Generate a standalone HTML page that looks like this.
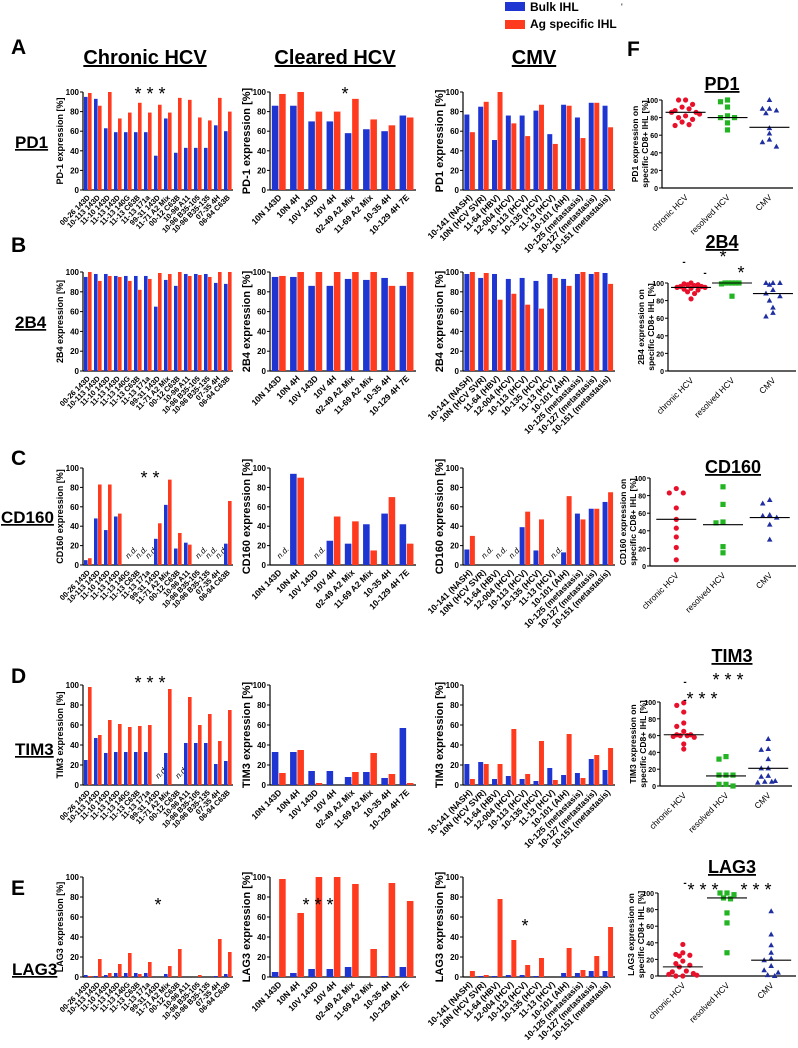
<!DOCTYPE html>
<html><head><meta charset="utf-8">
<style>
html,body{margin:0;padding:0;background:#fff;}
svg{display:block;font-family:"Liberation Sans",Arial,sans-serif;}
</style></head>
<body>
<svg id="fig" width="798" height="1048" viewBox="0 0 798 1048" xmlns="http://www.w3.org/2000/svg">
<g>
<rect x="505" y="2" width="20" height="9" fill="#1f35d1"/>
<text x="530" y="11" font-size="12" font-weight="bold">Bulk IHL</text>
<rect x="505" y="20" width="20" height="9" fill="#ff3b1f"/>
<text x="530" y="28" font-size="12" font-weight="bold">Ag specific IHL</text>
<text x="621" y="10" font-size="9">'</text>
</g>
<g font-weight="bold">
<text x="11" y="54" font-size="21">A</text>
<text x="11" y="252" font-size="21">B</text>
<text x="11" y="465" font-size="21">C</text>
<text x="11" y="683" font-size="21">D</text>
<text x="11" y="895" font-size="21">E</text>
<text x="627" y="56" font-size="21">F</text>
</g>
<g font-weight="bold" font-size="20" text-anchor="middle" text-decoration="underline">
<text x="145" y="64">Chronic HCV</text>
<text x="335" y="64">Cleared HCV</text>
<text x="534" y="64">CMV</text>
</g>
<g font-weight="bold" font-size="17" text-decoration="underline">
<text x="15" y="148">PD1</text>
<text x="15" y="328">2B4</text>
<text x="1" y="523" font-size="17">CD160</text>
<text x="15" y="755">TIM3</text>
<text x="12" y="975">LAG3</text>
</g>
<g id="plots"></g>
<g font-size="18" text-anchor="middle">
<text x="150" y="100">* * *</text>
<text x="345" y="100">*</text>
<text x="150" y="484">* *</text>
<text x="150" y="689">* * *</text>
<text x="158" y="911">*</text>
<text x="318" y="911">* * *</text>
<text x="525" y="932">*</text>
<text x="723" y="263">*</text>
<text x="741" y="279">*</text>
<text x="702" y="705">* * *</text>
<text x="728" y="686">* * *</text>
<text x="703" y="896">* * *</text>
<text x="756" y="896">* * *</text>
</g>
<g font-size="10" text-anchor="middle" font-weight="bold">
<text x="684" y="265">-</text>
<text x="705" y="276">-</text>
<text x="685" y="685">-</text>
<text x="685" y="703">-</text>
<text x="685" y="886">-</text>
</g>
<g font-weight="bold" font-size="18" text-anchor="middle" text-decoration="underline">
<text x="722" y="90">PD1</text>
<text x="722" y="248">2B4</text>
<text x="733" y="473">CD160</text>
<text x="732" y="662">TIM3</text>
<text x="732" y="873">LAG3</text>
</g>
</svg>
<script>
// ----- categories -----
const chronicCats = ["00-26 143D","10-113 143D","11-10 143D","11-13 143D","11-13 140G","11-13 C63B","11-13 171a","99-31 143D","11-71 A2 Mix","00-12 C63B","10-96 A11","10-96 B35-105","10-96 B35-135","07-35 4H","06-94 C63B"];
const clearedCats = ["10N 143D","10N 4H","10V 143D","10V 4H","02-49 A2 Mix","11-69 A2 Mix","10-35 4H","10-129 4H 7E"];
const cmvCats = ["10-141 (NASH)","10N (HCV SVR)","11-64 (HBV)","12-004 (HCV)","10-113 (HCV)","10-135 (HCV)","11-13 (HCV)","10-101 (AIH)","10-125 (metastasis)","10-127 (metastasis)","10-151 (metastasis)"];
const groupCats = ["chronic HCV","resolved HCV","CMV"];
const yTicks = [0,20,40,60,80,100];
// ----- PD1 -----
const pd1ChronicBulk = [95,93,63,59,59,59,59,35,73,38,43,43,43,66,60];
const pd1ChronicSpec = [99,86,100,73,79,89,79,87,79,94,92,74,71,94,80];
const pd1ClearedBulk = [86,86,70,70,58,62,60,76];
const pd1ClearedSpec = [98,100,80,80,93,72,66,74];
const pd1CmvBulk = [77,85,51,76,76,81,57,87,74,89,86];
const pd1CmvSpec = [59,90,100,68,55,87,47,86,53,89,64];
// ----- 2B4 -----
const b4ChronicBulk = [95,98,98,96,96,96,96,65,92,86,98,98,98,89,88];
const b4ChronicSpec = [100,91,96,95,91,82,93,99,98,100,96,97,95,100,100];
const b4ClearedBulk = [95,95,86,86,93,92,94,86];
const b4ClearedSpec = [96,100,100,100,100,100,86,100];
const b4CmvBulk = [98,94,98,93,94,91,98,93,98,98,99];
const b4CmvSpec = [100,99,72,78,67,63,94,86,100,100,88];
// ----- CD160 -----
const cdChronicBulk = [5,48,36,50,null,null,null,27,62,17,23,null,null,null,22];
const cdChronicSpec = [7,83,83,53,null,null,null,43,88,33,21,null,null,null,66];
const cdClearedBulk = [null,94,null,25,22,42,53,42];
const cdClearedSpec = [null,90,null,50,45,15,70,22];
const cdCmvBulk = [16,null,null,null,39,15,null,13,53,58,65];
const cdCmvSpec = [30,null,null,null,55,47,null,71,47,58,75];
// ----- TIM3 -----
const timChronicBulk = [25,47,32,33,33,33,33,null,32,null,42,42,42,21,24];
const timChronicSpec = [98,50,65,61,58,59,60,null,96,null,88,60,71,44,75];
const timClearedBulk = [33,33,14,14,8,13,7,57];
const timClearedSpec = [12,35,2,0,13,32,11,2];
const timCmvBulk = [21,23,6,9,6,4,17,10,12,26,15];
const timCmvSpec = [6,21,21,56,11,44,5,51,7,30,37];
// ----- LAG3 -----
const lagChronicBulk = [2,1,2,4,4,4,4,0,3,0,0,0,0,1,3];
const lagChronicSpec = [1,18,4,13,24,3,15,0,11,28,0,2,0,38,25];
const lagClearedBulk = [5,4,8,8,10,0,1,10];
const lagClearedSpec = [98,64,100,100,93,28,94,76];
const lagCmvBulk = [0,1,1,2,2,1,0,4,4,6,6];
const lagCmvSpec = [6,2,78,37,12,19,0,29,7,21,50];
// ----- F scatter -----
const pd1Chronic = [100,100,95,92,90,88,86,86,84,82,80,78,75,72,71];
const pd1Resolved = [100,98,92,82,80,80,74,66];
const pd1Cmv = [100,90,90,88,85,68,62,55,52,47];
const pd1Medians = [86,80,69];
const b4Chronic = [100,99,98,98,97,96,96,95,95,94,93,92,90,88,82];
const b4Resolved = [100,100,100,100,100,99,85];
const b4Cmv = [100,100,100,98,92,88,85,80,72,66,62];
const b4Medians = [95,100,88];
const cdChronic = [88,83,83,66,53,43,33,21,7];
const cdResolved = [90,70,50,49,22,15];
const cdCmv = [75,71,58,57,55,47,30];
const cdMedians = [53,47,55];
const timChronic = [99,96,88,75,71,65,61,61,60,60,59,58,50,44];
const timResolved = [35,32,13,13,13,2,2,0];
const timCmv = [56,44,43,32,21,21,12,11,6,5,5,4];
const timMedians = [61,12,21];
const lagChronic = [38,28,26,25,24,18,15,13,11,6,5,3,2,1,0,0];
const lagResolved = [100,100,98,94,93,76,64,28];
const lagCmv = [78,50,37,28,21,19,12,7,4,1,0];
const lagMedians = [11,94,19];

const NS = "http://www.w3.org/2000/svg";
const root = document.getElementById("plots");
function mk(tag, attrs, parent, txt){
  const e = document.createElementNS(NS, tag);
  for (const k in attrs) e.setAttribute(k, attrs[k]);
  if (txt !== undefined) e.textContent = txt;
  (parent || root).appendChild(e);
  return e;
}
const BLUE = "#1f35d1", RED = "#ff3b1f";

function axesY(g, x0, yTop, yBot, fs){
  const ys = v => yBot - (yBot - yTop) * v / 100;
  mk("line", {x1:x0, y1:yTop, x2:x0, y2:yBot, stroke:"#000", "stroke-width":1.2}, g);
  yTicks.forEach(t => {
    const y = ys(t);
    mk("line", {x1:x0-3, y1:y, x2:x0, y2:y, stroke:"#000", "stroke-width":1}, g);
    const tl = mk("text", {x:x0-4, y:y+3, "font-size":fs, "font-weight":"bold", "text-anchor":"end"}, g, String(t));
    
    
  });
  return ys;
}

function barChart(name, cats, bulk, spec, x0, x1, yTop, yBot, ylabel, ylFs, xFs){
  const g = mk("g", {});
  
  
  const ys = axesY(g, x0, yTop, yBot, 8);
  const n = cats.length, gw = (x1 - x0) / n;
  const xs = i => x0 + gw * i;
  mk("line", {x1:x0, y1:yBot, x2:x1, y2:yBot, stroke:"#000", "stroke-width":1.2}, g);
  cats.forEach((c, i) => {
    const gx = xs(i), bw = gw * 0.36;
    if (bulk[i] === null && spec[i] === null){
      const nd = mk("text", {x:0, y:0, "font-size":8, "font-style":"italic", transform:`translate(${gx+gw*0.55},${yBot-6}) rotate(-45)`}, g, "n.d.");
      
      
    }
    if (bulk[i] !== null){
      const r = mk("rect", {x:gx+gw*0.1, y:ys(bulk[i]), width:bw, height:yBot-ys(bulk[i]), fill:BLUE}, g);
      
      
    }
    if (spec[i] !== null){
      const r = mk("rect", {x:gx+gw*0.5, y:ys(spec[i]), width:bw, height:yBot-ys(spec[i]), fill:RED}, g);
      
      
    }
    const cx = gx + gw * 0.55;
    const t = mk("text", {x:0, y:0, "font-size":xFs, "font-weight":"bold", "text-anchor":"end", transform:`translate(${cx+2},${yBot+8}) rotate(-45)`}, g, c);
    
    
  });
  const yl = mk("text", {x:0, y:0, "font-size":ylFs, "font-weight":"bold", "text-anchor":"middle", transform:`translate(${x0-20},${(yTop+yBot)/2}) rotate(-90)`}, g, ylabel);
  
  
}

function scatter(name, groups, medians, x0, x1, yTop, yBot, l1, l2){
  const g = mk("g", {});
  
  
  const ys = axesY(g, x0, yTop, yBot, 7);
  mk("line", {x1:x0, y1:yBot, x2:x1, y2:yBot, stroke:"#000", "stroke-width":1.2}, g);
  const w = x1 - x0;
  const cxs = [x0 + w*0.18, x0 + w*0.5, x0 + w*0.82];
  const cols = ["#e8102a","#23b423","#1f2fa0"];
  const offs = [0,-7,7,-3.5,3.5,-10.5,10.5,-14,14];
  groups.forEach((vals, gi) => {
    const cx = cxs[gi];
    const sorted = vals.slice().sort((a,b)=>b-a);
    let lastV = null, k = 0;
    sorted.forEach(v => {
      if (lastV !== null && Math.abs(v - lastV) < 6) k++; else k = 0;
      lastV = v;
      const px = cx + offs[k % offs.length], py = ys(v);
      let m;
      if (gi === 0) m = mk("circle", {cx:px, cy:py, r:2.6, fill:cols[0]}, g);
      else if (gi === 1) m = mk("rect", {x:px-2.6, y:py-2.6, width:5.2, height:5.2, fill:cols[1]}, g);
      else m = mk("polygon", {points:`${px},${py-3} ${px-2.8},${py+2} ${px+2.8},${py+2}`, fill:cols[2]}, g);
      
      
    });
    const ml = mk("line", {x1:cx-20, y1:ys(medians[gi]), x2:cx+20, y2:ys(medians[gi]), stroke:"#000", "stroke-width":1.1}, g);
    
    
    const t = mk("text", {x:0, y:0, "font-size":8.5, "text-anchor":"end", transform:`translate(${cx+3},${yBot+10}) rotate(-45)`}, g, groupCats[gi]);
    
    
  });
  const mid = (yTop + yBot) / 2;
  const a = mk("text", {x:0, y:0, "font-size":8.5, "font-weight":"bold", "text-anchor":"middle", transform:`translate(${x0-24},${mid}) rotate(-90)`}, g, l1);
  
  
  const b = mk("text", {x:0, y:0, "font-size":8.5, "font-weight":"bold", "text-anchor":"middle", transform:`translate(${x0-14},${mid}) rotate(-90)`}, g, l2);
  
  
}

const rows = [
  {k:"pd1", t:92, b:190, ch:[pd1ChronicBulk,pd1ChronicSpec], cl:[pd1ClearedBulk,pd1ClearedSpec], cm:[pd1CmvBulk,pd1CmvSpec], l:["PD-1 expression [%]","PD-1 expression [%]","PD1 expression [%]"]},
  {k:"2b4", t:272, b:371, ch:[b4ChronicBulk,b4ChronicSpec], cl:[b4ClearedBulk,b4ClearedSpec], cm:[b4CmvBulk,b4CmvSpec], l:["2B4 expression [%]","2B4 expression [%]","2B4 expression [%]"]},
  {k:"cd160", t:468, b:565, ch:[cdChronicBulk,cdChronicSpec], cl:[cdClearedBulk,cdClearedSpec], cm:[cdCmvBulk,cdCmvSpec], l:["CD160 expression [%]","CD160 expression [%]","CD160 expression [%]"]},
  {k:"tim3", t:685, b:785, ch:[timChronicBulk,timChronicSpec], cl:[timClearedBulk,timClearedSpec], cm:[timCmvBulk,timCmvSpec], l:["TIM3 expression [%]","TIM3 expression [%]","TIM3 expression [%]"]},
  {k:"lag3", t:877, b:977, ch:[lagChronicBulk,lagChronicSpec], cl:[lagClearedBulk,lagClearedSpec], cm:[lagCmvBulk,lagCmvSpec], l:["LAG3 expression [%]","LAG3 expression [%]","LAG3 expression [%]"]}
];
rows.forEach(r => {
  barChart(r.k+"-chronic-chart", chronicCats, r.ch[0], r.ch[1], 83, 233, r.t, r.b, r.l[0], 9, 7.5);
  barChart(r.k+"-cleared-chart", clearedCats, r.cl[0], r.cl[1], 270, 416, r.t, r.b, r.l[1], 11, 8.5);
  barChart(r.k+"-cmv-chart", cmvCats, r.cm[0], r.cm[1], 463, 615, r.t, r.b, r.l[2], 11, 8.5);
});

scatter("pd1-scatter", [pd1Chronic,pd1Resolved,pd1Cmv], pd1Medians, 662, 793, 100, 188, "PD1 expression on", "specific CD8+ IHL [%]");
scatter("2b4-scatter", [b4Chronic,b4Resolved,b4Cmv], b4Medians, 668, 796, 283, 371, "2B4 expression on", "specific CD8+ IHL [%]");
scatter("cd160-scatter", [cdChronic,cdResolved,cdCmv], cdMedians, 650, 796, 478, 566, "CD160 expression on", "specific CD8+ IHL [%]");
scatter("tim3-scatter", [timChronic,timResolved,timCmv], timMedians, 660, 792, 702, 786, "TIM3 expression on", "specific CD8+ IHL [%]");
scatter("lag3-scatter", [lagChronic,lagResolved,lagCmv], lagMedians, 658, 796, 893, 976, "LAG3 expression on", "specific CD8+ IHL [%]");
</script>
</body></html>
